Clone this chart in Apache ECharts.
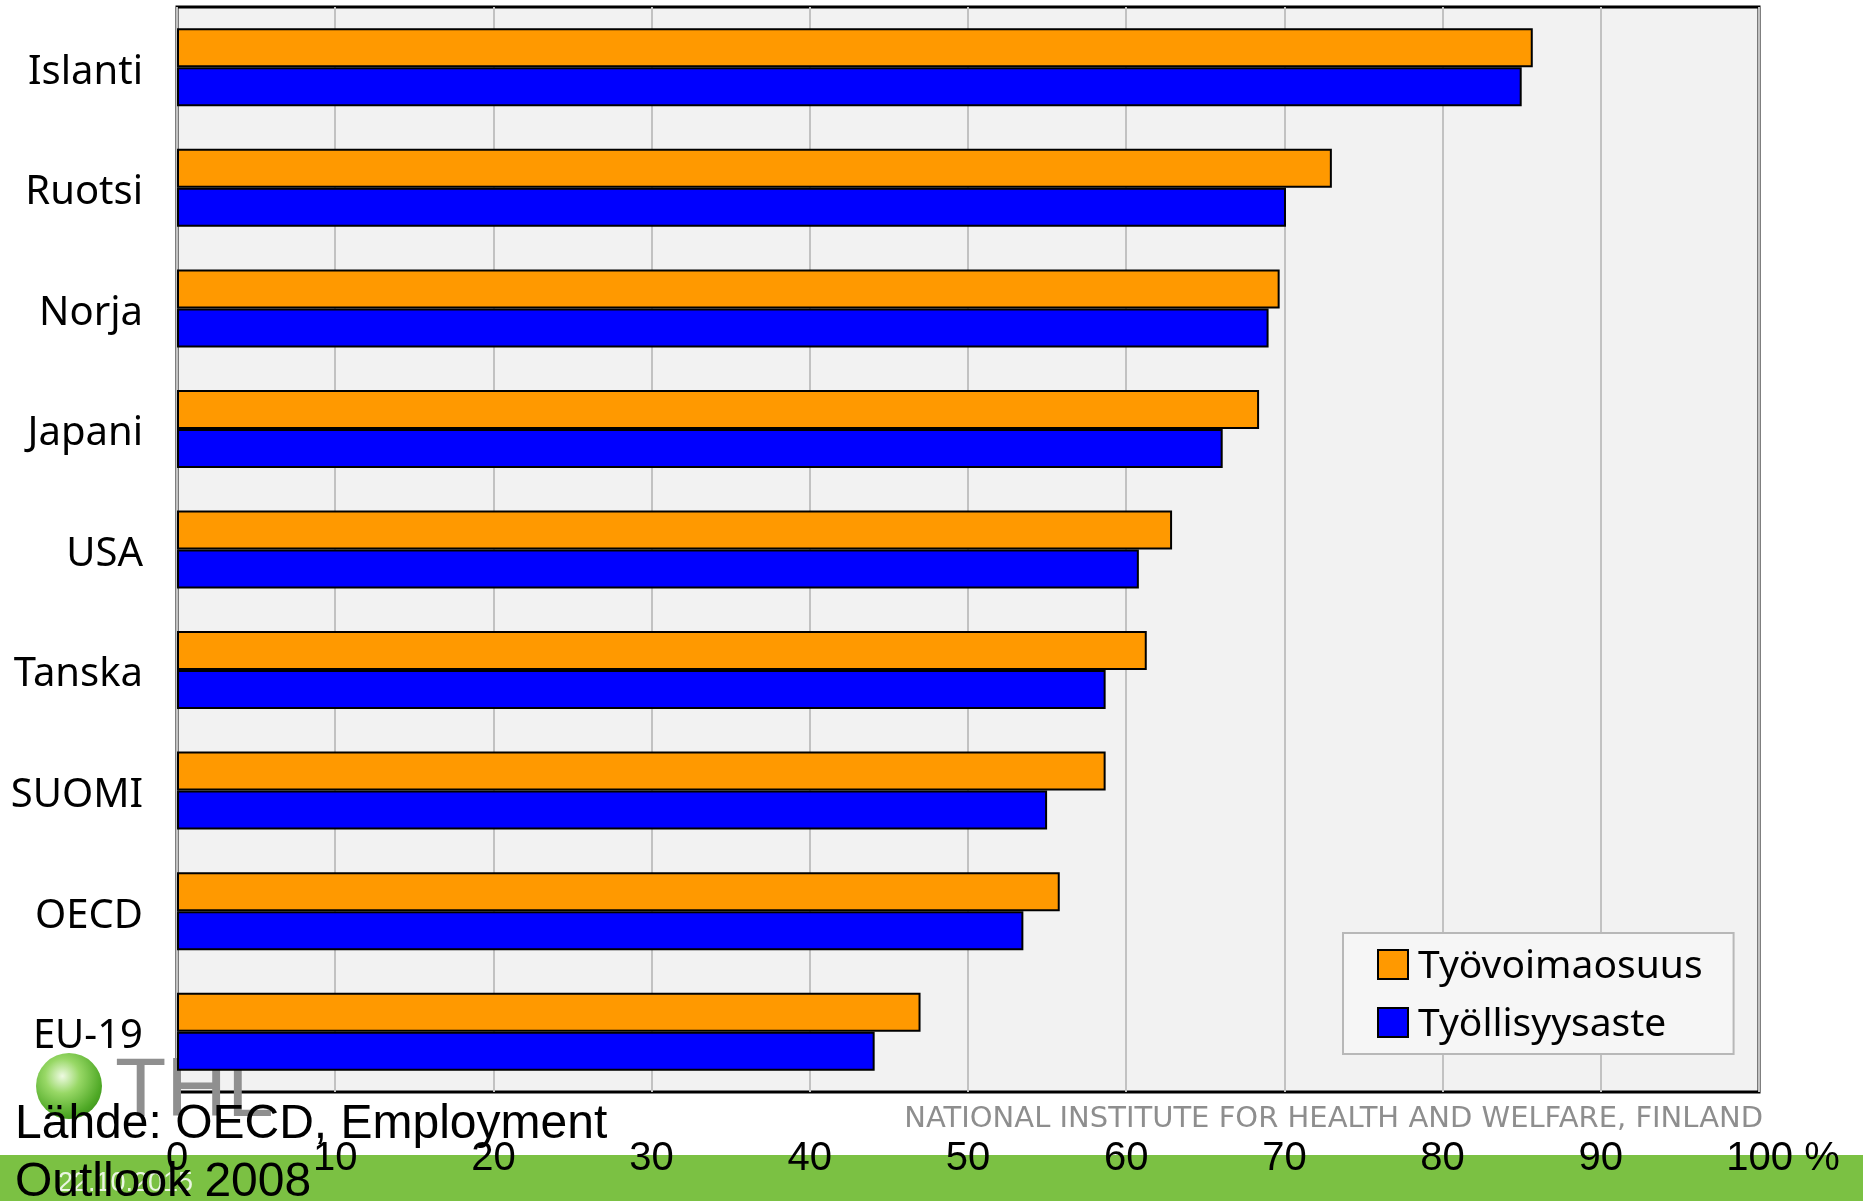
<!DOCTYPE html>
<html>
<head>
<meta charset="utf-8">
<script src="https://cdn.jsdelivr.net/npm/echarts@6/dist/echarts.min.js"></script>
<style>
html,body{margin:0;padding:0;background:#fff;}
#chart{width:1863px;height:1201px;}
</style>
</head>
<body>
<div id="chart"></div>
<script>
// ---- data ----
var categories = ['Islanti', 'Ruotsi', 'Norja', 'Japani', 'USA', 'Tanska', 'SUOMI', 'OECD', 'EU-19'];
var seriesNames = ['Työvoimaosuus', 'Työllisyysaste'];
var tyovoimaosuus = [85.7, 73.0, 69.7, 68.4, 62.9, 61.3, 58.7, 55.8, 47.0];
var tyollisyysaste = [85.0, 70.1, 69.0, 66.1, 60.8, 58.7, 55.0, 53.5, 44.1];
var xTickLabels = ['0', '10', '20', '30', '40', '50', '60', '70', '80', '90', '100 %'];
var sourceText = 'Lähde: OECD, Employment\nOutllook 2008';
var footerText = 'NATIONAL INSTITUTE FOR HEALTH AND WELFARE, FINLAND';
var dateText = '22.10.2015';
var logoText = 'THL';

var chart = echarts.init(document.getElementById('chart'), null, {renderer: 'canvas'});

var option = {
  backgroundColor: '#ffffff',
  animation: false,
  grid: {
    left: 177, right: 104, top: 7, bottom: 109,
    containLabel: false,
    outerBoundsMode: 'none',
    show: true,
    backgroundColor: '#f2f2f2',
    borderColor: '#000000',
    borderWidth: 3
  },
  legend: {
    orient: 'vertical',
    left: 1343, top: 933,
    padding: [10, 31, 10, 34],
    itemWidth: 30, itemHeight: 29, itemGap: 15,
    backgroundColor: '#f6f6f6',
    borderColor: '#b8b8b8', borderWidth: 2,
    icon: 'rect',
    itemStyle: {borderColor: '#000', borderWidth: 2},
    formatter: function (name) { return '{t|' + name + '}'; },
    textStyle: {
      fontFamily: 'Noto Sans', fontSize: 39, color: '#000', padding: [0, 0, 0, 5],
      rich: {t: {fontFamily: 'Noto Sans', fontSize: 39, color: '#000', lineHeight: 40, padding: [4, 0, 0, 0]}}
    },
    data: seriesNames
  },
  xAxis: {
    type: 'value', min: 0, max: 100, interval: 10,
    axisLine: {show: false}, axisTick: {show: false},
    splitLine: {show: true, lineStyle: {color: '#c2c2c2', width: 2}},
    axisLabel: {
      margin: 47,
      fontFamily: 'Liberation Sans', fontSize: 40, color: '#000',
      formatter: function (v) {
        var lbl = xTickLabels[Math.round(v / 10)];
        if (v === 100) return '{p|' + lbl + '}';
        return lbl;
      },
      rich: {p: {fontFamily: 'Liberation Sans', fontSize: 40, color: '#000', padding: [0, 0, 0, 48]}}
    }
  },
  yAxis: {
    type: 'category', data: categories, inverse: true,
    axisLine: {show: false}, axisTick: {show: false}, splitLine: {show: false},
    axisLabel: {
      margin: 34, fontFamily: 'Noto Sans', fontSize: 40, color: '#000',
      formatter: function (v) { return '{c|' + v + '}'; },
      rich: {c: {fontFamily: 'Noto Sans', fontSize: 40, color: '#000', lineHeight: 42, padding: [10, 0, 0, 0]}}
    }
  },
  series: [
    {
      name: seriesNames[0], type: 'bar', data: tyovoimaosuus,
      barWidth: 39, barGap: '0%',
      itemStyle: {color: '#ff9900', borderColor: '#000', borderWidth: 2}
    },
    {
      name: seriesNames[1], type: 'bar', data: tyollisyysaste,
      barWidth: 39, barGap: '0%',
      itemStyle: {color: '#0000ff', borderColor: '#000', borderWidth: 2}
    }
  ],
  graphic: [
    {type: 'rect', z: -10, shape: {x: 0, y: 1155, width: 1863, height: 46}, style: {fill: '#7bc143'}},
    {type: 'text', z: 1, left: 58, top: 1170,
     style: {text: dateText, font: '27px "Liberation Sans"', fill: 'rgba(255,255,255,0.85)'}},
    {type: 'circle', z: 1, shape: {cx: 69, cy: 1086, r: 33},
     style: {fill: {type: 'radial', x: 0.4, y: 0.35, r: 0.75,
       colorStops: [{offset: 0, color: '#eefae2'}, {offset: 0.35, color: '#98d866'}, {offset: 0.8, color: '#4ea825'}, {offset: 1, color: '#3b8d1b'}]}}},
    {type: 'text', z: 1, left: 115, top: 1051,
     style: {text: logoText, font: '84px "Liberation Sans"', fill: '#8f8f8f', lineHeight: 84}},
    {type: 'text', z: 1, right: 100, top: 1105,
     style: {text: footerText, font: '29px "DejaVu Sans"', fill: '#8e8e8e'}},
    {type: 'text', z: 100, left: 15, top: 1096,
     style: {text: sourceText, font: '48px "Liberation Sans"', fill: '#000', lineHeight: 58}}
  ]
};
chart.setOption(option);
</script>
</body>
</html>
